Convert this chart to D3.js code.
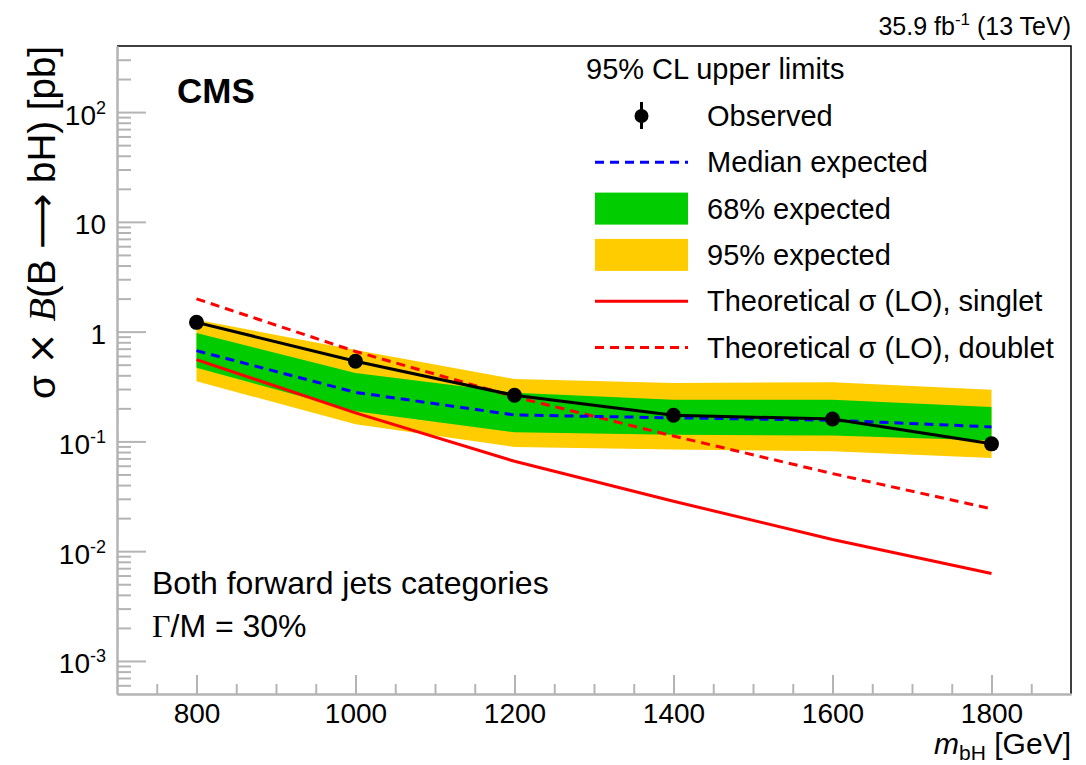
<!DOCTYPE html>
<html>
<head>
<meta charset="utf-8">
<script src="https://cdn.jsdelivr.net/npm/d3@7"></script>
<style>
  body { margin: 0; background: #fff; }
  svg { display: block; font-family: "Liberation Sans", Arial, Helvetica, sans-serif; }
</style>
</head>
<body>
<svg id="chart" width="1086" height="765"></svg>
<script>
// values (pb)
const masses = [800, 1000, 1200, 1400, 1600, 1800]
const observed = [1.215, 0.537, 0.263, 0.173, 0.160, 0.095]
const expMedian = [0.671, 0.28, 0.174, 0.164, 0.156, 0.1355]
const exp68Up = [0.973, 0.42, 0.277, 0.240, 0.240, 0.206]
const exp68Down = [0.470, 0.188, 0.121, 0.115, 0.113, 0.102]
const exp95Up = [1.286, 0.68, 0.37, 0.341, 0.345, 0.296]
const exp95Down = [0.353, 0.143, 0.089, 0.0842, 0.0813, 0.0707]
const thSinglet = [0.556, 0.182, 0.0659, 0.0285, 0.0128, 0.00625]
const thDoublet = [1.99, 0.66, 0.255, 0.112, 0.0509, 0.0243]

const xTicks = [800, 1000, 1200, 1400, 1600, 1800]
const yTicks = [1e-3, 1e-2, 1e-1, 1, 10, 100]
const yTickLabels = [["10", "-3"], ["10", "-2"], ["10", "-1"], ["1", ""], ["10", ""], ["10", "2"]]

const legendTitle = "95% CL upper limits"
const legendLabels = [
  "Observed",
  "Median expected",
  "68% expected",
  "95% expected",
  "Theoretical σ (LO), singlet",
  "Theoretical σ (LO), doublet"
]

function drawChart(){
  const svg = d3.select("#chart")
  const width = 1086
  const height = 765
  const margin = {top: 46, right: 15, bottom: 71, left: 117}
  const axisGrey = "#b4b4b4"

  const x = d3.scaleLinear()
    .domain([700, 1900])
    .range([margin.left, width - margin.right])

  const y = d3.scaleLog()
    .domain([5e-4, 400])
    .range([height - margin.bottom, margin.top])

  const rows = masses.map((m, i) => ({
    m: m,
    obs: observed[i],
    med: expMedian[i],
    up68: exp68Up[i],
    dn68: exp68Down[i],
    up95: exp95Up[i],
    dn95: exp95Down[i],
    sing: thSinglet[i],
    doub: thDoublet[i]
  }))

  // minor tick positions
  const yMinor = []
  for (let k = -4; k <= 2; k++) {
    for (let f = 2; f <= 9; f++) {
      const v = f * Math.pow(10, k)
      if (v > 5e-4 && v < 400) yMinor.push(v)
    }
  }
  const xMinor = d3.range(750, 1900, 50).filter(v => !xTicks.includes(v))

  // bands
  const band = (lo, hi) => d3.area()
    .x(d => x(d.m))
    .y0(d => y(d[lo]))
    .y1(d => y(d[hi]))

  svg.append("path")
    .datum(rows)
    .attr("fill", "#ffcc00")
    .attr("d", band("dn95", "up95"))

  svg.append("path")
    .datum(rows)
    .attr("fill", "#00cc00")
    .attr("d", band("dn68", "up68"))

  const line = key => d3.line()
    .x(d => x(d.m))
    .y(d => y(d[key]))

  svg.append("path")
    .datum(rows)
    .attr("fill", "none")
    .attr("stroke", "#ff0000")
    .attr("stroke-width", 3)
    .attr("d", line("sing"))

  svg.append("path")
    .datum(rows)
    .attr("fill", "none")
    .attr("stroke", "#ff0000")
    .attr("stroke-width", 3)
    .attr("stroke-dasharray", "9,6")
    .attr("d", line("doub"))

  svg.append("path")
    .datum(rows)
    .attr("fill", "none")
    .attr("stroke", "#0000ff")
    .attr("stroke-width", 3)
    .attr("stroke-dasharray", "9,6")
    .attr("d", line("med"))

  svg.append("path")
    .datum(rows)
    .attr("fill", "none")
    .attr("stroke", "#000")
    .attr("stroke-width", 3)
    .attr("stroke-linejoin", "round")
    .attr("d", line("obs"))

  svg.append("g")
    .selectAll("circle")
    .data(rows)
    .join("circle")
    .attr("cx", d => x(d.m))
    .attr("cy", d => y(d.obs))
    .attr("r", 7.5)
    .attr("fill", "#000")

  // frame top/right
  svg.append("path")
    .attr("d", `M${margin.left},${margin.top}H${width - margin.right}V${height - margin.bottom}`)
    .attr("fill", "none")
    .attr("stroke", "#000")
    .attr("stroke-width", 1.5)

  // y axis
  const yMinorAxis = svg.append("g")
    .attr("transform", `translate(${margin.left},0)`)
    .call(d3.axisLeft(y).tickValues(yMinor).tickFormat("").tickSizeInner(-14).tickSizeOuter(0))
  const yAxis = svg.append("g")
    .attr("transform", `translate(${margin.left},0)`)
    .call(d3.axisLeft(y).tickValues(yTicks).tickSizeInner(-29).tickSizeOuter(0).tickPadding(11))

  // x axis
  const xMinorAxis = svg.append("g")
    .attr("transform", `translate(0,${height - margin.bottom})`)
    .call(d3.axisBottom(x).tickValues(xMinor).tickFormat("").tickSizeInner(-10).tickSizeOuter(0))
  const xAxis = svg.append("g")
    .attr("transform", `translate(0,${height - margin.bottom})`)
    .call(d3.axisBottom(x).tickValues(xTicks).tickFormat(d3.format("d")).tickSizeInner(-19).tickSizeOuter(0).tickPadding(0))

  for (const g of [yMinorAxis, yAxis, xMinorAxis, xAxis]) {
    g.selectAll("line, path").attr("stroke", axisGrey).attr("stroke-width", 2)
    g.attr("font-family", null).attr("font-size", null)
  }

  xAxis.selectAll(".tick text")
    .attr("font-size", 28)
    .attr("fill", "#000")
    .attr("dy", null)
    .attr("y", 29)

  yAxis.selectAll(".tick text")
    .attr("font-size", 28)
    .attr("fill", "#000")
    .attr("dy", null)
    .attr("y", 12)
    .each(function(d){
      const t = d3.select(this)
      const lab = yTickLabels[yTicks.indexOf(d)]
      t.text(null)
      t.append("tspan").text(lab[0])
      if (lab[1]) {
        t.append("tspan").attr("font-size", 18).attr("dy", -11).text(lab[1])
      }
    })

  // axis titles
  svg.append("text")
    .attr("transform", `translate(55,${margin.top}) rotate(-90)`)
    .attr("text-anchor", "end")
    .attr("font-size", 38.5)
    .call(t => {
      t.append("tspan").text("σ ")
      t.append("tspan").attr("font-family", "'DejaVu Sans', sans-serif").text("×")
      t.append("tspan").text(" ")
      t.append("tspan").attr("font-family", "'Liberation Serif', serif").attr("font-style", "italic").text("B")
      t.append("tspan").text("(B ")
      t.append("tspan").attr("font-family", "'DejaVu Sans', sans-serif").text("⟶")
      t.append("tspan").text(" bH) [pb]")
    })

  svg.append("text")
    .attr("x", width - margin.right)
    .attr("y", 754)
    .attr("text-anchor", "end")
    .attr("font-size", 30)
    .call(t => {
      t.append("tspan").attr("font-style", "italic").text("m")
      t.append("tspan").attr("font-size", 21).attr("dy", 6).text("bH")
      t.append("tspan").attr("dy", -6).text(" [GeV]")
    })

  // labels
  svg.append("text")
    .attr("x", width - margin.right)
    .attr("y", 35)
    .attr("text-anchor", "end")
    .attr("font-size", 25)
    .call(t => {
      t.append("tspan").text("35.9 fb")
      t.append("tspan").attr("font-size", 17).attr("dy", -10).text("-1")
      t.append("tspan").attr("dy", 10).text(" (13 TeV)")
    })

  svg.append("text")
    .attr("x", 177)
    .attr("y", 103)
    .attr("font-size", 35)
    .attr("font-weight", "bold")
    .text("CMS")

  svg.append("text")
    .attr("x", 152)
    .attr("y", 594)
    .attr("font-size", 32)
    .text("Both forward jets categories")

  svg.append("text")
    .attr("x", 152)
    .attr("y", 637)
    .attr("font-size", 32)
    .call(t => {
      t.append("tspan").attr("font-family", "'Liberation Serif', serif").text("Γ")
      t.append("tspan").text("/M = 30%")
    })

  // legend
  const leg = svg.append("g")
  leg.append("text")
    .attr("x", 586)
    .attr("y", 79)
    .attr("font-size", 29)
    .text(legendTitle)

  const rowY = i => 116 + i * 46.3
  const symX0 = 595
  const symX1 = 688

  leg.selectAll("text.entry")
    .data(legendLabels)
    .join("text")
    .attr("class", "entry")
    .attr("x", 707)
    .attr("y", (d, i) => rowY(i) + 10)
    .attr("font-size", 29)
    .text(d => d)

  // observed symbol
  leg.append("line")
    .attr("x1", (symX0 + symX1) / 2).attr("x2", (symX0 + symX1) / 2)
    .attr("y1", rowY(0) - 14).attr("y2", rowY(0) + 13)
    .attr("stroke", "#000").attr("stroke-width", 3)
  leg.append("circle")
    .attr("cx", (symX0 + symX1) / 2).attr("cy", rowY(0))
    .attr("r", 7).attr("fill", "#000")

  leg.append("line")
    .attr("x1", symX0).attr("x2", symX1)
    .attr("y1", rowY(1)).attr("y2", rowY(1))
    .attr("stroke", "#0000ff").attr("stroke-width", 3).attr("stroke-dasharray", "9,6")

  leg.append("rect")
    .attr("x", symX0).attr("y", rowY(2) - 16)
    .attr("width", symX1 - symX0).attr("height", 32)
    .attr("fill", "#00cc00")

  leg.append("rect")
    .attr("x", symX0).attr("y", rowY(3) - 16)
    .attr("width", symX1 - symX0).attr("height", 32)
    .attr("fill", "#ffcc00")

  leg.append("line")
    .attr("x1", symX0).attr("x2", symX1)
    .attr("y1", rowY(4)).attr("y2", rowY(4))
    .attr("stroke", "#ff0000").attr("stroke-width", 3)

  leg.append("line")
    .attr("x1", symX0).attr("x2", symX1)
    .attr("y1", rowY(5)).attr("y2", rowY(5))
    .attr("stroke", "#ff0000").attr("stroke-width", 3).attr("stroke-dasharray", "9,6")
}

drawChart()
</script>
</body>
</html>
